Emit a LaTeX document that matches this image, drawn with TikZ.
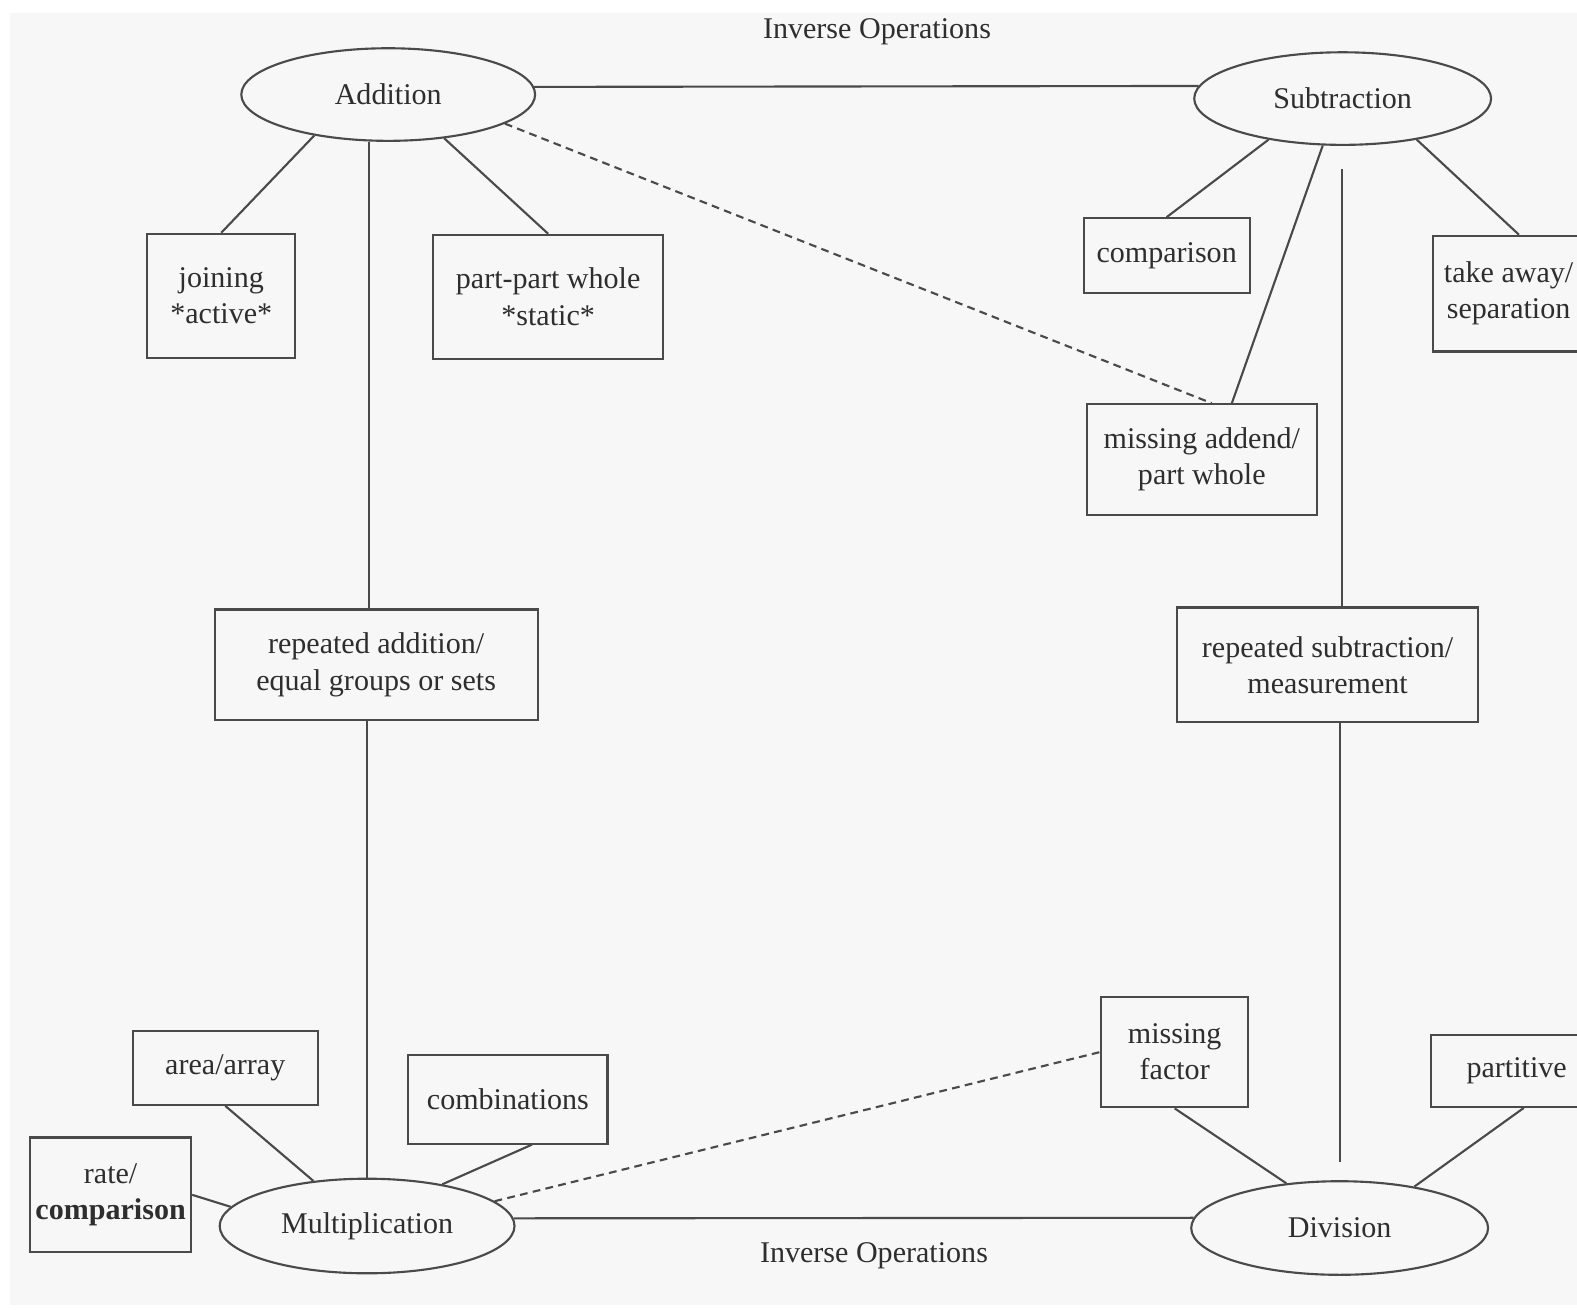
\documentclass[tikz,border=0pt]{standalone}
\usepackage{xcolor}
\usepackage{fontspec}
\setmainfont{Liberation Serif}
\usepackage{tikz}
\usetikzlibrary{shapes.geometric}

\definecolor{paper}{HTML}{F7F7F7}
\definecolor{ink}{HTML}{4A4A4A}
\definecolor{txt}{HTML}{2E2E2E}

\begin{document}
\begin{tikzpicture}[
  x=0.01cm, y=-0.01cm,
  every node/.style={font=\fontsize{8.5}{10.2}\selectfont, text=txt, align=center},
  opnode/.style={draw=ink, ellipse, line width=0.6pt, inner sep=0pt},
  box/.style={draw=ink, rectangle, line width=0.6pt, inner sep=0pt},
  link/.style={draw=ink, line width=0.6pt},
  hint/.style={link, dash pattern=on 2.2pt off 1.5pt},
]
\useasboundingbox (0,0) rectangle (1568,1302);
\clip (0,0) rectangle (1568,1302);
\fill[paper] (10,13) rectangle (1568,1298);

% ===== Operations =====
\node[opnode, minimum width=2.92cm, minimum height=0.92cm] (add) at (386,94) {Addition};
\node[opnode, minimum width=2.95cm, minimum height=0.92cm] (sub) at (1335,98) {Subtraction};
\node[opnode, minimum width=2.93cm, minimum height=0.94cm] (mul) at (365,1219) {Multiplication};
\node[opnode, minimum width=2.95cm, minimum height=0.93cm] (div) at (1332,1221) {Division};

\node (invtop) at (872,32) {Inverse Operations};
\node (invbot) at (869,1249) {Inverse Operations};

% ===== Addition situations =====
\node[box, minimum width=1.47cm, minimum height=1.23cm] (join) at (220,294) {joining\\*active*};
\node[box, minimum width=2.29cm, minimum height=1.23cm] (ppw) at (545,295) {part-part whole\\*static*};
\node[box, minimum width=3.21cm, minimum height=1.10cm] (repadd) at (374,661) {repeated addition/\\equal groups or sets};

% ===== Subtraction situations =====
\node[box, minimum width=1.65cm, minimum height=0.74cm] (comp) at (1160,254) {comparison};
\node[box, minimum width=1.50cm, minimum height=1.15cm] (take) at (1500,292) {take away/\\separation};
\node[box, minimum width=2.29cm, minimum height=1.10cm] (miss) at (1195,457) {missing addend/\\part whole};
\node[box, minimum width=2.99cm, minimum height=1.14cm] (repsub) at (1320,661) {repeated subtraction/\\measurement};

% ===== Multiplication situations =====
\node[box, minimum width=1.84cm, minimum height=0.73cm] (area) at (224,1062) {area/array};
\node[box, minimum width=1.98cm, minimum height=0.88cm] (comb) at (505,1093) {combinations};
\node[box, minimum width=1.60cm, minimum height=1.14cm] (rate) at (110,1188) {rate/\\\textbf{comparison}};

% ===== Division situations =====
\node[box, minimum width=1.46cm, minimum height=1.10cm] (missf) at (1168,1046) {missing\\factor};
\node[box, minimum width=1.70cm, minimum height=0.71cm] (part) at (1508,1065) {partitive};

% free ends of the subtraction/division line
\coordinate (s1) at (1334,168);
\coordinate (d1) at (1332,1155);

% ===== Links =====
\draw[link] (add.3) -- (sub.175);
\draw[link] (mul.3) -- (div.176);

\draw[link] (add.209) -- (join.north);
\draw[link] (add.322) -- (ppw.north);
\draw[link] (add.248) -- (add.248 |- repadd.north);
\draw[link] (repadd.south -| mul.north) -- (mul.north);

\draw[link] (sub.209) -- (comp.north);
\draw[link] (sub.247) -- (miss.62);
\draw[link] (sub.331) -- (take.80);
\draw[link] (s1) -- (s1 |- repsub.north);
\draw[link] (repsub.south -| d1) -- (d1);

\draw[link] (mul.140) -- (area.south);
\draw[link] (mul.29) -- (comb.298);
\draw[link] (mul.172) -- (rate.east);

\draw[link] (div.140) -- (missf.south);
\draw[link] (div.29) -- (part.281);

% ===== Dashed links =====
\draw[hint] (add.346) -- (miss.80);
\draw[hint] (mul.11) -- (missf.west);

\end{tikzpicture}
\end{document}
